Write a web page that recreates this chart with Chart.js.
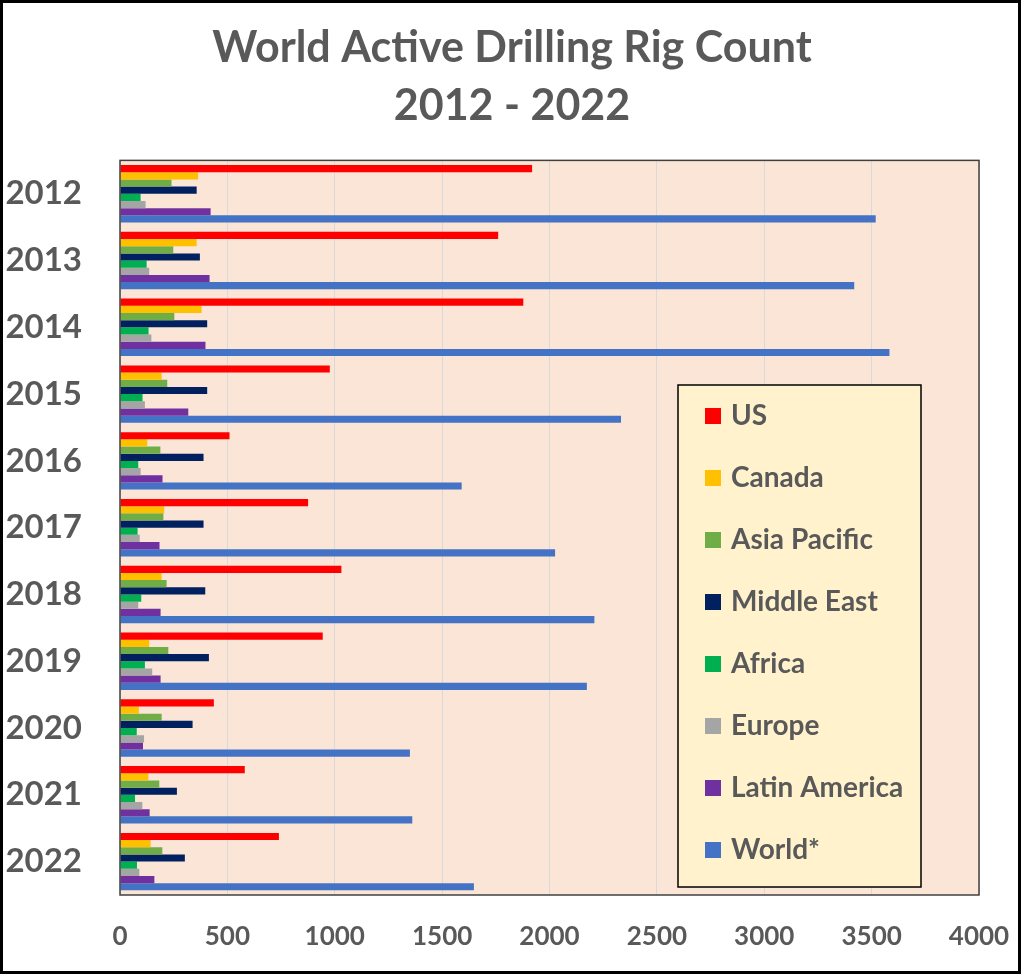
<!DOCTYPE html>
<html lang="en">
<head>
    <meta charset="UTF-8">
    <title>World Active Drilling Rig Count</title>
    <style>
        body {
            margin: 0;
            padding: 0;
            background: white;
        }

        .chart-box {
            width: 1024px;
            height: 977px;
        }
    </style>
</head>
<body>
    <div class="chart-box">
        <canvas id="rigChart"></canvas>
    </div>

    <script src="https://cdn.jsdelivr.net/npm/chart.js"></script>
    <script>
        // Rig counts per year
        const years = ["2012", "2013", "2014", "2015", "2016", "2017", "2018", "2019", "2020", "2021", "2022"];
        const us = [1919, 1761, 1878, 977, 510, 876, 1031, 944, 437, 581, 740];
        const canada = [364, 357, 380, 194, 127, 206, 194, 136, 88, 132, 143];
        const asiaPacific = [240, 248, 253, 220, 188, 202, 217, 225, 194, 183, 197];
        const middleEast = [357, 372, 406, 406, 389, 389, 397, 414, 338, 265, 302];
        const africa = [96, 124, 133, 105, 85, 82, 99, 116, 78, 70, 79];
        const europe = [119, 136, 146, 116, 96, 92, 85, 150, 112, 104, 90];
        const latinAmerica = [422, 417, 398, 318, 198, 184, 189, 189, 107, 138, 160];
        const world = [3519, 3419, 3583, 2333, 1591, 2026, 2209, 2174, 1350, 1361, 1648];
        const xTicks = [0, 500, 1000, 1500, 2000, 2500, 3000, 3500, 4000];

        const textColor = "#595959";
        const fontName = "Lato, 'Open Sans', sans-serif";

        // Background, plot area fill and frames
        const frame = {
            id: "frame",
            beforeDraw(chart) {
                const ctx = chart.ctx;
                const a = chart.chartArea;
                ctx.save();
                ctx.fillStyle = "white";
                ctx.fillRect(0, 0, chart.width, chart.height);
                ctx.fillStyle = "#FBE5D6";
                ctx.fillRect(a.left, a.top, a.right - a.left, a.bottom - a.top);
                ctx.restore();
            },
            afterDraw(chart) {
                const ctx = chart.ctx;
                const a = chart.chartArea;
                ctx.save();
                ctx.strokeStyle = "#404040";
                ctx.lineWidth = 1.5;
                ctx.strokeRect(a.left, a.top, a.right - a.left, a.bottom - a.top);
                ctx.strokeStyle = "black";
                ctx.lineWidth = 3;
                ctx.strokeRect(1.5, 1.5, chart.width - 6, chart.height - 6);
                ctx.restore();
            }
        };

        // Legend box inside the plot, like the Excel original
        const legendBox = {
            id: "legendBox",
            afterDraw(chart) {
                const ctx = chart.ctx;
                const x = 678, y = 385, w = 243, h = 502;
                ctx.save();
                ctx.fillStyle = "#FFF2CC";
                ctx.fillRect(x, y, w, h);
                ctx.strokeStyle = "black";
                ctx.lineWidth = 1.5;
                ctx.strokeRect(x, y, w, h);
                ctx.font = "bold 28px " + fontName;
                ctx.textBaseline = "middle";
                chart.data.datasets.forEach(function (ds, i) {
                    const cy = 416 + i * 62;
                    ctx.fillStyle = ds.backgroundColor;
                    ctx.fillRect(705, cy - 8, 16, 16);
                    ctx.fillStyle = textColor;
                    ctx.fillText(ds.label, 731, cy);
                });
                ctx.restore();
            }
        };

        const ctx = document.getElementById("rigChart").getContext("2d");
        new Chart(ctx, {
            type: "bar",
            data: {
                labels: years,
                datasets: [
                    { label: "US", data: us, backgroundColor: "#FF0000" },
                    { label: "Canada", data: canada, backgroundColor: "#FFC000" },
                    { label: "Asia Pacific", data: asiaPacific, backgroundColor: "#70AD47" },
                    { label: "Middle East", data: middleEast, backgroundColor: "#002060" },
                    { label: "Africa", data: africa, backgroundColor: "#00B050" },
                    { label: "Europe", data: europe, backgroundColor: "#A5A5A5" },
                    { label: "Latin America", data: latinAmerica, backgroundColor: "#7030A0" },
                    { label: "World*", data: world, backgroundColor: "#4472C4" }
                ]
            },
            options: {
                indexAxis: "y",
                responsive: true,
                maintainAspectRatio: false,
                animation: false,
                datasets: {
                    bar: { categoryPercentage: 0.86, barPercentage: 1.0 }
                },
                layout: { padding: 0 },
                plugins: {
                    legend: { display: false },
                    tooltip: { enabled: false },
                    title: {
                        display: true,
                        text: ["World Active Drilling Rig Count", "2012 - 2022"],
                        color: textColor,
                        font: { family: fontName, size: 43, weight: "bold", lineHeight: 1.33 },
                        padding: { top: 20, bottom: 26 }
                    }
                },
                scales: {
                    x: {
                        min: 0,
                        max: 4000,
                        afterBuildTicks(axis) {
                            axis.ticks = xTicks.map(v => ({ value: v }));
                        },
                        afterFit(axis) { axis.height = 82; },
                        // invisible ticks give the gap between plot and labels
                        grid: { color: "#D9D9D9", drawTicks: true, tickLength: 26, tickColor: "rgba(0,0,0,0)" },
                        border: { display: false },
                        ticks: {
                            color: textColor,
                            padding: 0,
                            font: { family: fontName, size: 26, weight: "bold" },
                            callback: v => String(v)
                        }
                    },
                    y: {
                        afterFit(axis) { axis.width = 120; },
                        grid: { display: false, drawTicks: false },
                        border: { display: false },
                        ticks: {
                            color: textColor,
                            padding: 38,
                            font: { family: fontName, size: 33, weight: "bold" }
                        }
                    },
                    // empty axis on the right, only to leave the white margin
                    yRight: {
                        type: "category",
                        position: "right",
                        afterFit(axis) { axis.width = 45; },
                        grid: { display: false, drawTicks: false },
                        border: { display: false },
                        ticks: { display: false }
                    }
                }
            },
            plugins: [frame, legendBox]
        });
    </script>
</body>
</html>
